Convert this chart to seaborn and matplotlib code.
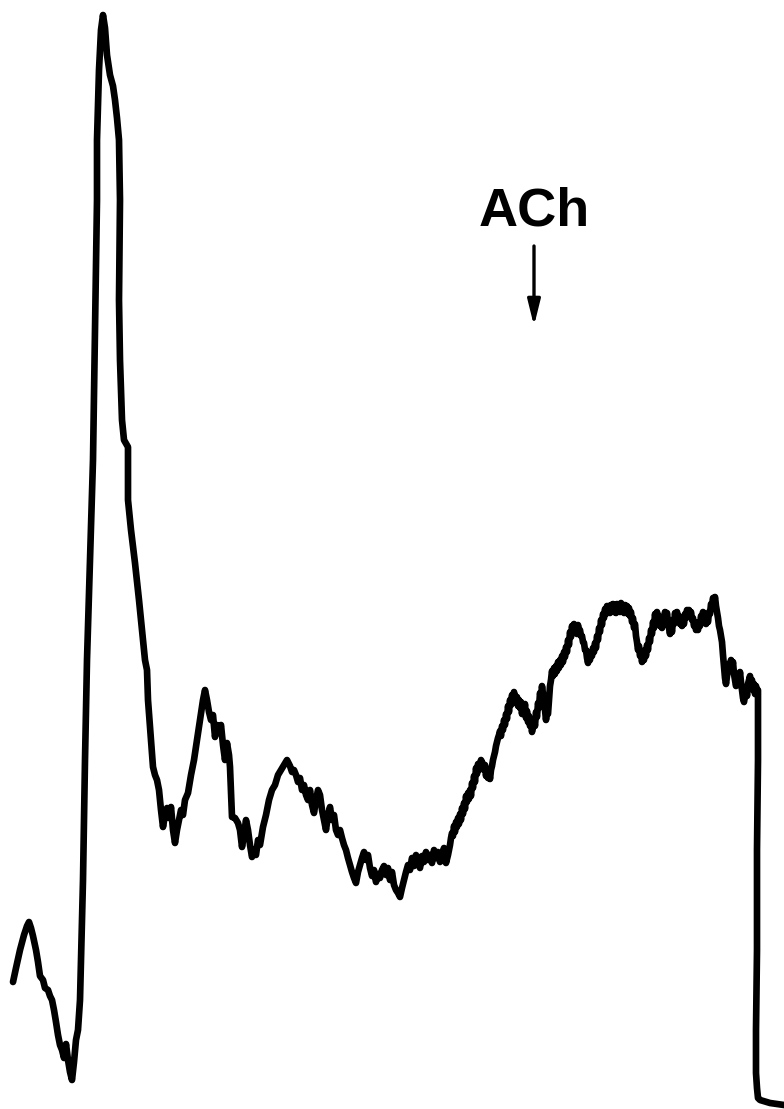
import matplotlib
matplotlib.use("Agg")
import matplotlib.pyplot as plt
import seaborn as sns
import pandas as pd

# Recording trace, split into phases; each entry is (time, deflection),
# deflection measured downward.
pre_spike = [
    (13, 982), (16, 968), (20, 950), (24, 935), (27, 926), (29, 922), (31, 928),
    (33, 936), (36, 950), (38, 962), (40, 976), (43, 980), (45, 988), (48, 990),
    (50, 996), (52, 1000), (54, 1010), (56, 1022), (58, 1035), (60, 1045),
    (62, 1050), (64, 1058), (66, 1044), (68, 1060), (70, 1072), (72, 1080),
    (74, 1062), (76, 1040), (78, 1030), (80, 1000),
]

spike = [
    (83, 880), (85, 760), (87, 660), (90, 560), (93, 460), (95, 330), (97, 200),
    (97, 140), (99, 70), (101, 30), (103, 15), (105, 28), (107, 55), (110, 75),
    (113, 86), (115, 100), (117, 118), (119, 140), (120, 200), (119, 300),
    (120, 360), (122, 420), (124, 440), (128, 447), (128, 500), (131, 530),
    (135, 563), (139, 600), (142, 630), (145, 660), (147, 670), (148, 700),
    (151, 740), (153, 767), (155, 775), (157, 780), (159, 790), (161, 810),
    (163, 827), (165, 815), (167, 808), (169, 818), (171, 807), (173, 830),
    (175, 843), (177, 830), (179, 820), (181, 810), (183, 815), (185, 800),
]

after_waves = [
    (188, 793), (191, 775), (194, 760), (197, 740), (200, 720), (203, 700),
    (205, 690), (207, 700), (209, 712), (211, 720), (213, 715), (215, 737),
    (217, 725), (219, 732), (221, 725), (223, 745), (225, 760), (227, 743),
    (229, 755), (230, 767), (232, 817), (235, 818), (238, 823), (240, 830),
    (242, 847), (244, 835), (246, 820), (248, 830), (250, 845), (252, 857),
    (254, 850), (256, 855), (258, 840), (260, 845), (263, 827), (266, 815),
    (269, 800), (272, 790), (275, 785), (278, 775), (281, 770), (284, 765),
    (287, 760), (290, 766), (292, 772), (294, 770), (296, 775), (298, 782),
    (300, 778), (302, 790), (304, 785), (306, 795), (308, 800), (310, 790),
    (312, 805), (314, 813), (316, 800), (318, 790), (320, 795), (322, 810),
    (324, 820), (326, 830), (328, 815), (330, 807), (332, 820), (334, 815),
    (336, 830), (338, 835), (340, 830), (342, 838), (344, 845), (346, 850),
    (348, 858), (350, 865), (352, 872), (354, 878), (356, 883), (358, 872),
    (360, 865), (362, 858), (364, 852), (366, 860), (368, 855), (370, 868),
    (372, 876), (374, 870), (376, 882), (378, 874), (380, 878), (382, 870),
    (384, 866), (386, 875), (388, 868), (390, 880), (392, 872), (394, 885),
    (396, 890), (398, 893), (400, 897), (402, 888), (404, 880), (406, 872),
    (408, 865), (410, 870), (412, 858), (414, 866), (416, 855), (418, 862),
    (420, 868), (422, 856), (424, 862), (426, 852), (428, 860), (430, 855),
    (432, 863), (434, 850), (436, 858), (438, 852), (440, 862), (442, 855),
    (444, 848), (446, 863), (448, 855),
]

rise = [
    (450, 845), (451, 838), (452, 833), (453, 836), (454, 826), (455, 832),
    (456, 822), (457, 827), (458, 818), (459, 824), (460, 814), (461, 820),
    (462, 808), (463, 814), (464, 803), (465, 809), (466, 796), (467, 802),
    (468, 793), (469, 799), (470, 790), (471, 796), (472, 783), (473, 788),
    (474, 776), (475, 782), (476, 768), (477, 774), (478, 764), (479, 770),
    (480, 765), (481, 760), (482, 762), (483, 768), (484, 770), (485, 765),
    (486, 776), (487, 770), (488, 778), (489, 772), (490, 779), (491, 770),
    (492, 766), (493, 760), (494, 756), (495, 752), (496, 746), (497, 742),
    (498, 738), (499, 735), (500, 731), (501, 736), (502, 726), (503, 730),
    (504, 720), (505, 725), (506, 714), (507, 719), (508, 706), (509, 712),
    (510, 700), (511, 705), (512, 695), (513, 700), (514, 692), (515, 699),
    (516, 703), (517, 697), (518, 706), (519, 700), (520, 708), (521, 702),
    (522, 714), (523, 706), (524, 711), (525, 704), (526, 718), (527, 711),
    (528, 722), (529, 716), (530, 726), (531, 720), (532, 732), (533, 725),
    (534, 720), (535, 726), (536, 712), (537, 717), (538, 703), (539, 708),
    (540, 693), (541, 698), (542, 686), (543, 694), (544, 702), (545, 710),
    (546, 720), (547, 712), (548, 714), (549, 700), (550, 686), (551, 680),
    (552, 671), (553, 676), (554, 668), (555, 674), (556, 666), (557, 671),
    (558, 662), (559, 668), (560, 660), (561, 665), (562, 656), (563, 662),
    (564, 652), (565, 657), (566, 647), (567, 652), (568, 640), (569, 645),
    (570, 632), (571, 637), (572, 626), (573, 632), (574, 624), (575, 630),
    (576, 628), (577, 634), (578, 625), (579, 632), (580, 630), (581, 636),
    (582, 636), (583, 642), (584, 643), (585, 650), (586, 650), (587, 658),
    (588, 663), (589, 657), (590, 660), (591, 652), (592, 656), (593, 648),
    (594, 652), (595, 643), (596, 648), (597, 636), (598, 640), (599, 628),
    (600, 632), (601, 620), (602, 625), (603, 614), (604, 618), (605, 609),
    (606, 614), (607, 606), (608, 612),
]

plateau = [
    (609, 606), (610, 613), (611, 605), (612, 611), (613, 604), (614, 612),
    (615, 606), (616, 613), (617, 604), (618, 610), (619, 605), (620, 612),
    (621, 603), (622, 610), (623, 606), (624, 613), (625, 605), (626, 611),
    (627, 606), (628, 614), (629, 608), (630, 616), (631, 612), (632, 622),
    (633, 618), (634, 628), (635, 624), (636, 636), (637, 642), (638, 650),
    (639, 646), (640, 656), (641, 652), (642, 662), (643, 656), (644, 660),
    (645, 650), (646, 656), (647, 645), (648, 650), (649, 638), (650, 642),
    (651, 630), (652, 634), (653, 622), (654, 628), (655, 614), (656, 620),
    (657, 612), (658, 620), (659, 616), (660, 626), (661, 620), (662, 628),
    (663, 618), (664, 622), (665, 612), (666, 618), (667, 613), (668, 622),
    (669, 628), (670, 634), (671, 626), (672, 632), (673, 620), (674, 624),
    (675, 613), (676, 618), (677, 612), (678, 620), (679, 616), (680, 624),
    (681, 618), (682, 626), (683, 620), (684, 624), (685, 614), (686, 618),
    (687, 610), (688, 615), (689, 610), (690, 616), (691, 612), (692, 620),
    (693, 618), (694, 626), (695, 622), (696, 630), (697, 626), (698, 630),
    (699, 622), (700, 626), (701, 616), (702, 620), (703, 612), (704, 618),
    (705, 614), (706, 624), (707, 618), (708, 622), (709, 612), (710, 614),
    (711, 604), (712, 606), (713, 598), (714, 602), (715, 597),
]

washout = [
    (716, 606), (717, 612), (718, 618), (719, 626), (720, 630), (721, 636),
    (722, 642), (723, 655), (724, 666), (725, 678), (726, 684), (727, 676),
    (728, 670), (729, 664), (730, 666), (731, 660), (732, 668), (733, 662),
    (734, 674), (735, 680), (736, 686), (737, 682), (738, 676), (739, 680),
    (740, 672), (741, 682), (742, 690), (743, 698), (744, 702), (745, 694),
    (746, 688), (747, 696), (748, 684), (749, 680), (750, 676), (751, 684),
    (752, 680), (753, 690), (754, 684), (755, 694), (756, 686), (757, 692),
    (758, 690),
]

# Recorder returns to its lower rest position
drop = [
    (758, 700), (758, 760), (757, 850), (757, 950), (756, 1030), (756, 1073),
    (757, 1088), (758, 1098), (760, 1100), (770, 1103), (784, 1105),
]

# Drug application marker
label = "ACh"
label_time = 534

phases = [pre_spike, spike, after_waves, rise, plateau, washout, drop]
points = [p for phase in phases for p in phase]

sns.set_theme(style="white")
plt.rcParams["font.family"] = ["Liberation Sans", "DejaVu Sans"]

trace = pd.DataFrame(points, columns=["time", "deflection"])

fig = plt.figure(figsize=(7.84, 11.09), dpi=100)
ax = fig.add_axes([0, 0, 1, 1])
sns.lineplot(data=trace, x="time", y="deflection", sort=False, estimator=None,
             color="black", linewidth=4.8, ax=ax,
             solid_joinstyle="round", solid_capstyle="round")
ax.set_xlim(0, 784)
ax.set_ylim(1109, 0)
ax.set_axis_off()

ax.text(label_time, 211, label, ha="center", va="center", fontsize=39,
        fontweight="bold", color="black")
ax.annotate("", xy=(label_time, 326), xytext=(label_time, 246),
            arrowprops=dict(arrowstyle="-|>,head_length=1.3,head_width=0.32",
                            color="black", lw=2.4, shrinkA=0, shrinkB=0))

fig.savefig("out.png", dpi=100, facecolor="white")
